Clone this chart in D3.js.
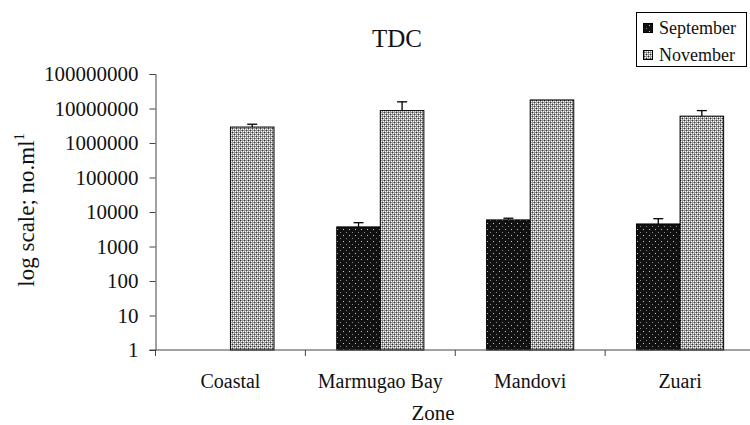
<!DOCTYPE html>
<html>
<head>
<meta charset="utf-8">
<script src="https://cdn.jsdelivr.net/npm/d3@7"></script>
<style>
  body { margin: 0; background: #fff; }
  svg text { font-family: "Liberation Serif", serif; fill: #111; }
</style>
</head>
<body>
<svg id="chart" width="750" height="425"></svg>
<script>
const zones = ["Coastal", "Marmugao Bay", "Mandovi", "Zuari"];
const seriesNames = ["September", "November"];
const september = [1, 3700, 5900, 4500];
const septemberErr = [0, 1200, 700, 1900];
const november = [2900000, 8700000, 17700000, 6000000];
const novemberErr = [600000, 6900000, 0, 2700000];
const yTicks = [1, 10, 100, 1000, 10000, 100000, 1000000, 10000000, 100000000];

const svg = d3.select("#chart");
const margin = {left: 155.5, top: 74, bottom: 350, right: 755};

const x = d3.scaleBand().domain(zones).range([margin.left, margin.right]).padding(0);
const xs = d3.scaleBand().domain(seriesNames).range([0, x.bandwidth()]).paddingInner(0).paddingOuter(0.72);
const y = d3.scaleLog().domain([1, 100000000]).range([margin.bottom, margin.top]);

// fill patterns
const defs = svg.append("defs");
const pSep = defs.append("pattern").attr("id", "pSep").attr("patternUnits", "userSpaceOnUse")
    .attr("width", 6).attr("height", 6);
pSep.append("rect").attr("width", 6).attr("height", 6).attr("fill", "#111");
pSep.append("rect").attr("x", 1).attr("y", 1).attr("width", 1).attr("height", 1).attr("fill", "#ccc");
pSep.append("rect").attr("x", 4).attr("y", 4).attr("width", 1).attr("height", 1).attr("fill", "#888");

const pNov = defs.append("pattern").attr("id", "pNov").attr("patternUnits", "userSpaceOnUse")
    .attr("width", 4).attr("height", 4);
pNov.append("rect").attr("width", 4).attr("height", 4).attr("fill", "#999");
[[0, 0], [2, 2]].forEach(p => pNov.append("rect").attr("x", p[0]).attr("y", p[1])
    .attr("width", 1).attr("height", 1).attr("fill", "#333"));
[[1, 1], [3, 3], [1, 3], [3, 1]].forEach(p => pNov.append("rect").attr("x", p[0]).attr("y", p[1])
    .attr("width", 1).attr("height", 1).attr("fill", "#fff"));

const series = [
    {name: "September", values: september, err: septemberErr, fill: "url(#pSep)"},
    {name: "November", values: november, err: novemberErr, fill: "url(#pNov)"}
];

// bars
series.forEach(s => {
    const g = svg.append("g");
    zones.forEach((z, i) => {
        const x0 = x(z) + xs(s.name);
        const top = y(s.values[i]);
        g.append("rect")
            .attr("x", x0).attr("y", top)
            .attr("width", xs.bandwidth()).attr("height", y(1) - top)
            .attr("fill", s.fill).attr("stroke", "#000").attr("stroke-width", 1);
        if (s.err[i] > 0) {
            const cx = x0 + xs.bandwidth() / 2;
            const yErr = y(s.values[i] + s.err[i]);
            g.append("line").attr("x1", cx).attr("x2", cx).attr("y1", top).attr("y2", yErr)
                .attr("stroke", "#000").attr("stroke-width", 1.3);
            g.append("line").attr("x1", cx - 5).attr("x2", cx + 5).attr("y1", yErr).attr("y2", yErr)
                .attr("stroke", "#000").attr("stroke-width", 1.3);
        }
    });
});

// y axis
const yAxis = svg.append("g").attr("transform", `translate(${margin.left},0)`)
    .call(d3.axisLeft(y).tickValues(yTicks).tickFormat(d3.format("d")).tickSize(6).tickPadding(11));
yAxis.attr("font-family", null).attr("font-size", null);
yAxis.selectAll("text").style("font-size", "21px").style("font-family", "Liberation Serif");
yAxis.selectAll("line, path").attr("stroke", "#444");

// x axis
const xAxis = svg.append("g").attr("transform", `translate(0,${margin.bottom})`);
xAxis.append("line").attr("x1", margin.left - 6).attr("x2", margin.right).attr("y1", 0).attr("y2", 0)
    .attr("stroke", "#444");
xAxis.selectAll("line.tick").data(zones).join("line").attr("class", "tick")
    .attr("x1", d => x(d)).attr("x2", d => x(d)).attr("y1", 0).attr("y2", 6).attr("stroke", "#444");
xAxis.selectAll("text").data(zones).join("text")
    .attr("x", d => x(d) + x.bandwidth() / 2).attr("y", 38)
    .attr("text-anchor", "middle").style("font-size", "20px").text(d => d);

// titles
svg.append("text").attr("x", 397).attr("y", 47).attr("text-anchor", "middle")
    .style("font-size", "25px").text("TDC");
svg.append("text").attr("x", 433).attr("y", 420).attr("text-anchor", "middle")
    .style("font-size", "21px").text("Zone");
const yTitle = svg.append("text").attr("transform", "translate(34,210) rotate(-90)")
    .attr("text-anchor", "middle").style("font-size", "23px");
yTitle.append("tspan").text("log scale; no.ml");
yTitle.append("tspan").attr("dy", -10).style("font-size", "14px").text("1");

// legend
const legend = svg.append("g");
legend.append("rect").attr("x", 636.5).attr("y", 12.5).attr("width", 110).attr("height", 54)
    .attr("fill", "#fff").attr("stroke", "#000");
series.forEach((s, i) => {
    legend.append("rect").attr("x", 643.5).attr("y", 23.5 + i * 27).attr("width", 9).attr("height", 9)
        .attr("fill", s.fill).attr("stroke", "#000");
    legend.append("text").attr("x", 659).attr("y", 34 + i * 27).style("font-size", "18px")
        .text(s.name);
});
</script>
</body>
</html>
